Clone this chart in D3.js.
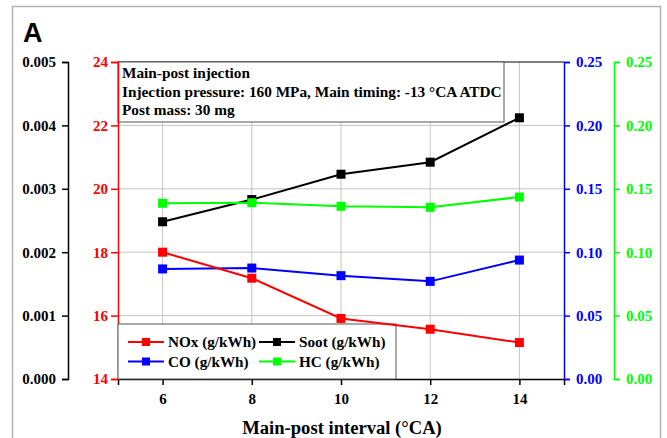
<!DOCTYPE html>
<html>
<head>
<meta charset="utf-8">
<script src="https://cdn.jsdelivr.net/npm/d3@7"></script>
<style>
  body { margin: 0; background: #fff; }
  svg text { font-family: "Liberation Serif", "Times New Roman", serif; font-weight: bold; }
</style>
</head>
<body>
<svg id="chart"></svg>
<script>
// data
const intervals = [6, 8, 10, 12, 14];
const noxValues = [18.0, 17.18, 15.91, 15.57, 15.15];
const sootValues = [0.00248, 0.00283, 0.00323, 0.00342, 0.00412];
const coValues = [0.0868, 0.0875, 0.0815, 0.0770, 0.0938];
const hcValues = [0.1386, 0.1390, 0.1362, 0.1354, 0.1435];

const sootTicks = [0, 0.001, 0.002, 0.003, 0.004, 0.005];
const noxTicks = [14, 16, 18, 20, 22, 24];
const rightTicks = [0, 0.05, 0.10, 0.15, 0.20, 0.25];
const xTicks = [6, 8, 10, 12, 14];

const noteLines = [
  "Main-post injection",
  "Injection pressure: 160 MPa, Main timing: -13 °CA ATDC",
  "Post mass: 30 mg"
];
const legendItems = [
  {label: "NOx (g/kWh)", color: "#ff0000"},
  {label: "Soot (g/kWh)", color: "#000000"},
  {label: "CO (g/kWh)", color: "#0000ff"},
  {label: "HC (g/kWh)", color: "#00ff00"}
];

const width = 667, height = 438;
const margin = {top: 62, bottom: 59, left: 118, right: 103};

const svg = d3.select("#chart")
  .attr("width", width)
  .attr("height", height);

// outer frame
svg.append("rect")
  .attr("x", 12.5).attr("y", 6.5)
  .attr("width", 648).attr("height", 450)
  .attr("fill", "none")
  .attr("stroke", "#b4b4b4")
  .attr("stroke-width", 1.5);

svg.append("text")
  .attr("x", 23).attr("y", 42)
  .style("font-family", "'Liberation Sans', Arial, sans-serif")
  .style("font-size", "27px")
  .text("A");

const x = d3.scaleLinear().domain([5, 15]).range([margin.left, width - margin.right]);
const yRange = [height - margin.bottom, margin.top];
const yNox = d3.scaleLinear().domain([14, 24]).range(yRange);
const ySoot = d3.scaleLinear().domain([0, 0.005]).range(yRange);
const yCo = d3.scaleLinear().domain([0, 0.25]).range(yRange);
const yHc = d3.scaleLinear().domain([0, 0.25]).range(yRange);

// grid
const grid = svg.append("g").attr("stroke", "#c4c4c4").attr("stroke-width", 1);
grid.selectAll(".gx").data(xTicks).enter().append("line")
  .attr("x1", d => x(d)).attr("x2", d => x(d))
  .attr("y1", yRange[0]).attr("y2", yRange[1]);
grid.selectAll(".gy").data(noxTicks.slice(1, -1)).enter().append("line")
  .attr("x1", x(5)).attr("x2", x(15))
  .attr("y1", d => yNox(d)).attr("y2", d => yNox(d));

// top frame
svg.append("line")
  .attr("x1", x(5)).attr("x2", x(15))
  .attr("y1", yRange[1]).attr("y2", yRange[1])
  .attr("stroke", "#000").attr("stroke-width", 1.2);

// note box
const note = svg.append("g");
note.append("rect")
  .attr("x", x(5)).attr("y", margin.top)
  .attr("width", 386).attr("height", 60)
  .attr("fill", "#fff").attr("stroke", "#555").attr("stroke-width", 1);
note.selectAll("text").data(noteLines).enter().append("text")
  .attr("x", x(5) + 4)
  .attr("y", (d, i) => margin.top + 16 + i * 18.7)
  .style("font-size", "15.3px")
  .text(d => d);

// axes
function styleAxis(g, color) {
  g.selectAll("path").attr("stroke", color).attr("stroke-width", 1.5);
  g.selectAll("line").attr("stroke", color).attr("stroke-width", 1.5);
  g.selectAll("text").attr("fill", color)
    .style("font-family", "'Liberation Serif', 'Times New Roman', serif")
    .style("font-weight", "bold")
    .style("font-size", "15px");
}

svg.append("g")
  .attr("transform", `translate(0,${yRange[0]})`)
  .call(d3.axisBottom(x).tickValues(xTicks).tickSizeOuter(0).tickSize(6).tickPadding(8))
  .call(g => styleAxis(g, "#000"));

svg.append("g")
  .attr("transform", `translate(68,0)`)
  .call(d3.axisLeft(ySoot).tickValues(sootTicks).tickFormat(d3.format(".3f")).tickSizeOuter(0).tickSize(6).tickPadding(6))
  .call(g => styleAxis(g, "#000"));

svg.append("g")
  .attr("transform", `translate(${x(5)},0)`)
  .call(d3.axisLeft(yNox).tickValues(noxTicks).tickFormat(d3.format("d")).tickSizeOuter(0).tickSize(7).tickPadding(3))
  .call(g => styleAxis(g, "#ff0000"));

svg.append("g")
  .attr("transform", `translate(${x(15)},0)`)
  .call(d3.axisRight(yCo).tickValues(rightTicks).tickFormat(d3.format(".2f")).tickSizeOuter(0).tickSize(6).tickPadding(6))
  .call(g => styleAxis(g, "#0000ff"));

svg.append("g")
  .attr("transform", `translate(614,0)`)
  .call(d3.axisRight(yHc).tickValues(rightTicks).tickFormat(d3.format(".2f")).tickSizeOuter(0).tickSize(6).tickPadding(6))
  .call(g => styleAxis(g, "#00ff00"));

// axis title
svg.append("text")
  .attr("x", 342).attr("y", 434)
  .attr("text-anchor", "middle")
  .style("font-size", "18.6px")
  .text("Main-post interval (°CA)");

// series
const series = [
  {values: sootValues, y: ySoot, color: "#000000"},
  {values: hcValues, y: yHc, color: "#00ff00"},
  {values: coValues, y: yCo, color: "#0000ff"},
  {values: noxValues, y: yNox, color: "#ff0000"}
];

// legend box (under the lines)
const legend = svg.append("g");
legend.append("rect")
  .attr("x", x(5)).attr("y", 324)
  .attr("width", 278).attr("height", yRange[0] - 324)
  .attr("fill", "#fff").attr("stroke", "#555").attr("stroke-width", 1);

series.forEach(s => {
  const line = d3.line().x((d, i) => x(intervals[i])).y(d => s.y(d));
  svg.append("path")
    .datum(s.values)
    .attr("d", line)
    .attr("fill", "none")
    .attr("stroke", s.color)
    .attr("stroke-width", 2);
  svg.selectAll(null).data(s.values).enter().append("rect")
    .attr("x", (d, i) => x(intervals[i]) - 4.5)
    .attr("y", d => s.y(d) - 4.5)
    .attr("width", 9).attr("height", 9)
    .attr("fill", s.color);
});

const items = legend.selectAll(".item").data(legendItems).enter().append("g")
  .attr("transform", (d, i) => `translate(${128 + (i % 2) * 131},${342 + Math.floor(i / 2) * 19.5})`);
items.append("line")
  .attr("x1", 0).attr("x2", 36)
  .attr("stroke", d => d.color).attr("stroke-width", 2);
items.append("rect")
  .attr("x", 14).attr("y", -4).attr("width", 8).attr("height", 8)
  .attr("fill", d => d.color);
items.append("text")
  .attr("x", 40).attr("y", 5)
  .style("font-size", "15.2px")
  .text(d => d.label);
</script>
</body>
</html>
